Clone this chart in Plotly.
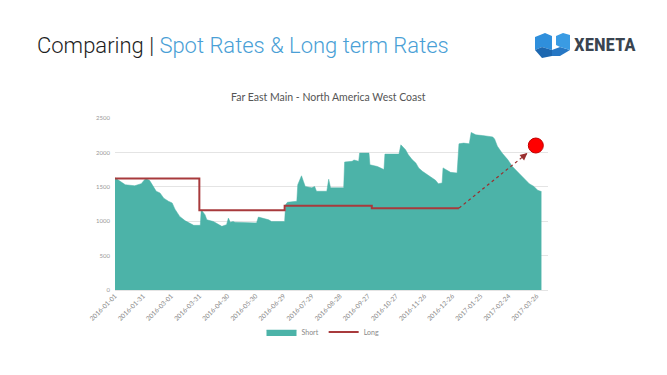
import plotly.graph_objects as go

# ---------------- data ----------------
short_dates = [
    "2016-01-01", "2016-01-06", "2016-01-12", "2016-01-22", "2016-01-29", "2016-02-02",
    "2016-02-04", "2016-02-07", "2016-02-11", "2016-02-14", "2016-02-18", "2016-02-22",
    "2016-02-27", "2016-03-02", "2016-03-05", "2016-03-10", "2016-03-16", "2016-03-21",
    "2016-03-25", "2016-04-01", "2016-04-02", "2016-04-06", "2016-04-08", "2016-04-15",
    "2016-04-20", "2016-04-24", "2016-04-29", "2016-05-01", "2016-05-03", "2016-05-06",
    "2016-05-08", "2016-05-22", "2016-05-31", "2016-06-02", "2016-06-07", "2016-06-13",
    "2016-06-16", "2016-06-21", "2016-06-24", "2016-06-30", "2016-07-01", "2016-07-03",
    "2016-07-13", "2016-07-14", "2016-07-18", "2016-07-20", "2016-07-22", "2016-07-29",
    "2016-08-01", "2016-08-03", "2016-08-14", "2016-08-16", "2016-08-18", "2016-09-01",
    "2016-09-02", "2016-09-10", "2016-09-12", "2016-09-17", "2016-09-18", "2016-09-28",
    "2016-09-29", "2016-10-07", "2016-10-12", "2016-10-14", "2016-10-15", "2016-10-30",
    "2016-11-01", "2016-11-06", "2016-11-09", "2016-11-13", "2016-11-17", "2016-11-20",
    "2016-11-24", "2016-11-29", "2016-12-03", "2016-12-08", "2016-12-11", "2016-12-15",
    "2016-12-16", "2016-12-19", "2016-12-24", "2016-12-31", "2017-01-02", "2017-01-07",
    "2017-01-13", "2017-01-15", "2017-01-20", "2017-01-27", "2017-02-07", "2017-02-09",
    "2017-02-12", "2017-02-17", "2017-02-23", "2017-02-28", "2017-03-05", "2017-03-11",
    "2017-03-14", "2017-03-18", "2017-03-23", "2017-03-27", "2017-03-31",
]
short_values = [
    1630, 1590, 1530, 1515, 1545, 1610,
    1615, 1590, 1505, 1435, 1410, 1335,
    1290, 1265, 1175, 1070, 1005, 965,
    940, 940, 1165, 1095, 1020, 995,
    950, 925, 950, 1045, 985, 995,
    985, 975, 975, 1060, 1045, 1020,
    995, 1000, 995, 995, 1240, 1275,
    1290, 1530, 1660, 1580, 1505, 1485,
    1505, 1435, 1435, 1610, 1485, 1485,
    1860, 1870, 1890, 1870, 1990, 1990,
    1820, 1795, 1770, 1750, 1975, 1975,
    2110, 2040, 1965, 1895, 1845, 1775,
    1725, 1680, 1650, 1595, 1545, 1555,
    1775, 1750, 1710, 1700, 2125, 2135,
    2125, 2290, 2255, 2245, 2225, 2195,
    2090, 1990, 1895, 1795, 1725, 1650,
    1605, 1545, 1505, 1450, 1430,
]

long_dates = ["2016-01-01", "2016-03-31", "2016-06-30", "2016-10-01", "2017-01-02"]
long_values = [1620, 1160, 1225, 1190, 1190]

proj_dates = ["2017-01-02", "2017-03-16"]
proj_values = [1190, 1990]

target_date = ["2017-03-25"]
target_value = [2100]

tick_dates = [
    "2016-01-01", "2016-01-31", "2016-03-01", "2016-03-31", "2016-04-30", "2016-05-30",
    "2016-06-29", "2016-07-29", "2016-08-28", "2016-09-27", "2016-10-27", "2016-11-26",
    "2016-12-26", "2017-01-25", "2017-02-24", "2017-03-26",
]
y_ticks = [0, 500, 1000, 1500, 2000, 2500]

# ---------------- layout helpers ----------------
# the page body has an 8px margin, so the figure is drawn 8px right/down
OFF = 8
PAGE_W, PAGE_H = 667, 375
W, H = PAGE_W - OFF, PAGE_H - OFF
# plot area in page pixels: x 115..548, y 118..290
L = 115 - OFF
T = 118 - OFF
PW, PH = 433, 172
R = W - L - PW
B = H - T - PH


def px(x):  # page pixel x -> paper
    return (x - OFF - L) / PW


def py(y):  # page pixel y -> paper
    return (T + PH - (y - OFF)) / PH


TEAL = "#4cb3a8"
RED = "#a83a3c"

fig = go.Figure()

fig.add_trace(go.Scatter(
    x=short_dates, y=short_values, name="Short", mode="lines",
    line=dict(color=TEAL, width=0.5), fill="tozeroy", fillcolor=TEAL,
))
fig.add_trace(go.Scatter(
    x=long_dates, y=long_values, name="Long", mode="lines",
    line=dict(color=RED, width=2, shape="hv"),
))
fig.add_trace(go.Scatter(
    x=proj_dates, y=proj_values, mode="lines", showlegend=False,
    line=dict(color="#9a2f2f", width=1.2, dash="dot"),
))
fig.add_trace(go.Scatter(
    x=target_date, y=target_value, mode="markers", showlegend=False,
    marker=dict(color="#ff0000", size=15, line=dict(color="#c00000", width=1)),
))

# arrow head at end of projection
fig.add_annotation(
    x=proj_dates[1], y=proj_values[1], ax="2017-03-12", ay=1945,
    xref="x", yref="y", axref="x", ayref="y", text="", showarrow=True,
    arrowhead=2, arrowsize=1.2, arrowwidth=1.2, arrowcolor="#9a2f2f",
)

# slide title
fig.add_annotation(
    x=px(35), y=py(46), xref="paper", yref="paper", xanchor="left", yanchor="middle",
    text="Comparing | <span style='color:#4a9fd6'>Spot Rates &amp; Long term Rates</span>",
    showarrow=False, font=dict(family="Roboto", size=22, color="#1e1e1e", weight=300),
)
# chart title
fig.add_annotation(
    x=px(328), y=py(97), xref="paper", yref="paper", xanchor="center", yanchor="middle",
    text="Far East Main - North America West Coast", showarrow=False,
    font=dict(family="Lato", size=10.5, color="#555555"),
)
# logo text
fig.add_annotation(
    x=px(572), y=py(45), xref="paper", yref="paper", xanchor="left", yanchor="middle",
    text="<b>XENETA</b>", showarrow=False,
    font=dict(family="Liberation Sans Narrow, Roboto Condensed, Roboto", size=19, color="#3a4450"),
)

# logo icon shapes (page pixel -> paper)
def poly(pts, color):
    d = "M " + " L ".join(f"{px(a):.4f},{py(b):.4f}" for a, b in pts) + " Z"
    fig.add_shape(type="path", path=d, xref="paper", yref="paper",
                  fillcolor=color, line=dict(width=0), layer="above")


poly([(535, 37), (545, 33), (552, 36), (552, 50), (542, 47), (535, 50)], "#2f8fdc")
poly([(535, 50), (542, 47), (552, 50), (552, 56), (542, 58)], "#1c67b0")
poly([(552, 50), (560, 47), (570, 50), (560, 56), (552, 56)], "#2677c4")
poly([(556, 36), (563, 33), (570, 35), (570, 50), (560, 47), (556, 45)], "#3a9be3")

fig.update_layout(
    width=W, height=H,
    margin=dict(l=L, r=R, t=T, b=B, autoexpand=False),
    paper_bgcolor="white", plot_bgcolor="white",
    font=dict(family="Lato", color="#888888"),
    showlegend=True,
    legend=dict(
        orientation="h", x=px(323), y=py(332), xanchor="center", yanchor="middle",
        font=dict(size=7, color="#888888"), itemwidth=30, tracegroupgap=0,
        bgcolor="rgba(0,0,0,0)",
    ),
    xaxis=dict(
        type="date", range=["2016-01-01", "2017-04-07"], automargin=False,
        tickvals=tick_dates, ticktext=tick_dates, tickangle=-45,
        tickfont=dict(size=6.5, color="#888888"), showgrid=False, zeroline=False,
        showline=False, ticks="",
    ),
    yaxis=dict(
        range=[0, 2500], tickvals=y_ticks, tickfont=dict(size=6, color="#999999"),
        showgrid=True, gridcolor="#e4e4e4", gridwidth=1, zeroline=True, automargin=False,
        zerolinecolor="#e4e4e4", zerolinewidth=1, ticks="", ticklabelstandoff=4,
    ),
)

fig.write_html("out.html")
